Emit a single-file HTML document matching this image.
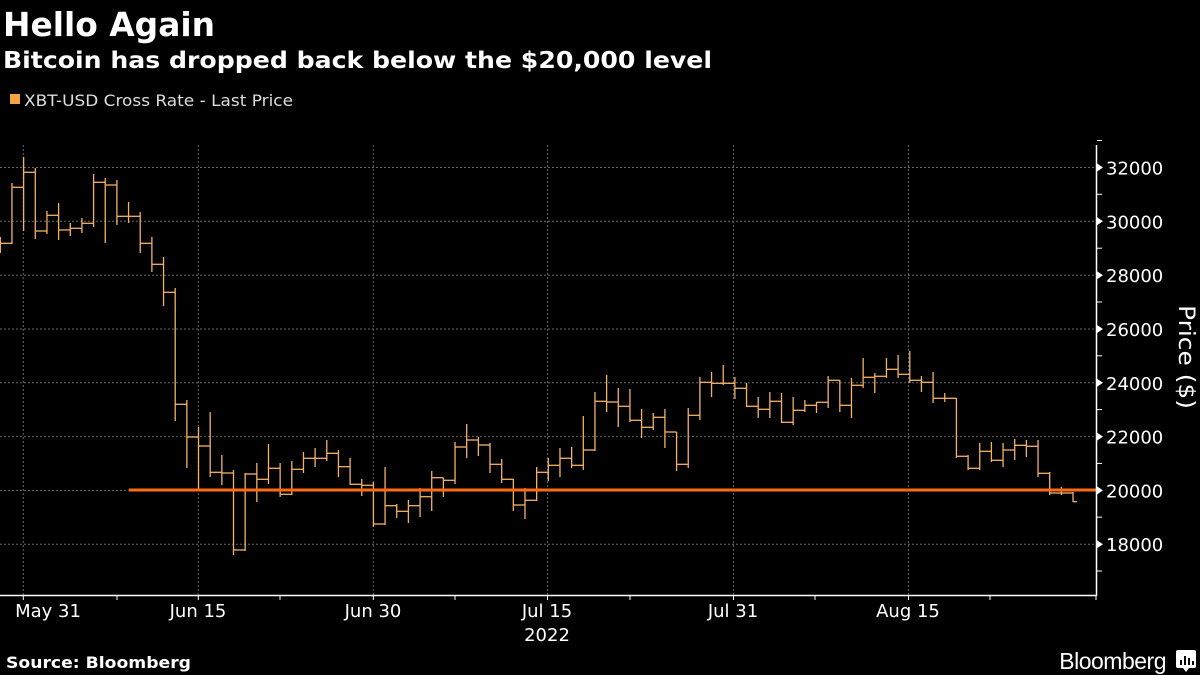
<!DOCTYPE html>
<html><head><meta charset="utf-8"><style>
body{margin:0;background:#000;width:1200px;height:675px;overflow:hidden;font-family:"Liberation Sans","DejaVu Sans",sans-serif;color:#fff}
</style></head><body>
<svg width="1200" height="675" xmlns="http://www.w3.org/2000/svg" style="position:absolute;left:0;top:0">
<text x="3" y="36" font-size="33" font-weight="bold" fill="#fff" font-family="DejaVu Sans, sans-serif" textLength="212" lengthAdjust="spacingAndGlyphs">Hello Again</text>
<text x="3" y="68" font-size="23" font-weight="bold" fill="#fff" font-family="DejaVu Sans, sans-serif" textLength="709" lengthAdjust="spacingAndGlyphs">Bitcoin has dropped back below the $20,000 level</text>
<rect x="10" y="94" width="10" height="10" fill="#f5a443"/>
<text x="24" y="106" font-size="16" fill="#ddd" font-family="DejaVu Sans, sans-serif" textLength="269" lengthAdjust="spacingAndGlyphs">XBT-USD Cross Rate - Last Price</text>
<g id="grid" stroke="#666" stroke-dasharray="2,2" stroke-width="1"></g>
<g id="bars" stroke="#f5b265" stroke-width="1.3" fill="none"></g>
<line x1="129" y1="490" x2="1097" y2="490" stroke="#ff6a13" stroke-width="3"/>
<g id="axis" stroke="#fff" stroke-width="1.5"></g>
<g id="lab" fill="#fff" font-size="18" font-family="DejaVu Sans, sans-serif"></g>
<text transform="translate(1179,357) rotate(90)" text-anchor="middle" font-size="22" fill="#fff" font-family="DejaVu Sans, sans-serif" textLength="104" lengthAdjust="spacingAndGlyphs">Price ($)</text>
<text x="547" y="641" text-anchor="middle" font-size="18" fill="#fff" font-family="DejaVu Sans, sans-serif">2022</text>
<text x="6" y="668" font-size="16" font-weight="bold" fill="#fff" font-family="DejaVu Sans, sans-serif" textLength="185" lengthAdjust="spacingAndGlyphs">Source: Bloomberg</text>
<text x="1166" y="669" text-anchor="end" font-size="23" fill="#fff" font-family="Liberation Sans, sans-serif" letter-spacing="-0.5">Bloomberg</text>
<rect x="1176" y="650" width="20" height="18" rx="2" fill="#fff"/>
<path d="M1183 668 l3 4 l3 -4z" fill="#fff"/>
<g stroke="#000" stroke-width="2"><line x1="1181" y1="665" x2="1181" y2="660"/><line x1="1185" y1="665" x2="1185" y2="656"/><line x1="1189" y1="665" x2="1189" y2="658"/><line x1="1193" y1="665" x2="1193" y2="661"/></g>
</svg>
<script>
var ns="http://www.w3.org/2000/svg";
function el(p,t,a){var e=document.createElementNS(ns,t);for(var k in a)e.setAttribute(k,a[k]);document.getElementById(p).appendChild(e);return e;}
var gy=[167.5,221.3,275.2,329,382.8,436.6,490.4,544.2];
gy.forEach(function(y){el("grid","line",{x1:0,y1:y,x2:1096,y2:y});});
[23.3,198.3,373.3,547.5,733.5,908.5].forEach(function(x){el("grid","line",{x1:x,y1:145,x2:x,y2:595});});
var L=[243.3,187.3,172.3,231,215.3,230,228.3,223.3,182.3,185,216.3,216.3,243.3,264.3,292.3,404.3,437,446,472.3,473,550,474,479.3,468.3,494.3,469.3,458.3,458.3,453.3,466.7,484.3,485.3,524,505.7,511.3,505.7,496.7,477.7,480.3,447,440,445,464.3,479.3,505,500.3,472.3,465.3,458.3,465.3,450,401.3,402,406.3,420.3,427.3,417.3,432,464.3,415.3,382.3,383.3,383.3,388.3,406.3,409.3,401.3,422.3,410.3,405.3,402.3,380.3,405.3,385.3,377.3,376.3,369.3,374.3,380.3,382.3,398.3,398.3,456.3,468.3,451.3,460.3,450,445.3,446.3,473.3,493,493,501.7];
var E=[[237,253],[183,244],[157,231],[168,239],[211,234],[203,240],[223,236],[218,233],[174,227],[178,243],[180,225],[202,223],[212,253],[237,272],[257,306],[288,421],[400,468],[427,490],[412,477],[455,485],[470,555],[473,551],[463,502],[444,484],[463,497],[461,495],[452,473],[448,467],[440,461],[450,477],[458,485],[479,496],[482,527],[467,525],[504,518],[500,523],[488,517],[471,511],[478,497],[442,484],[424,458],[437,456],[443,473],[459,483],[479,511],[488,519],[467,501],[458,481],[448,477],[447,468],[416,470],[392,451],[375,412],[388,427],[389,422],[409,438],[413,430],[409,448],[432,471],[408,468],[377,420],[372,397],[365,385],[377,399],[383,407],[397,418],[392,418],[393,423],[397,425],[400,412],[402,413],[376,408],[380,412],[378,418],[358,388],[373,393],[358,378],[355,378],[351,383],[376,392],[372,403],[393,402],[398,458],[455,470],[443,470],[442,462],[443,467],[439,460],[440,457],[440,477],[472,495],[487,495],[492,502]];
function bx(i){return 0.3+i*11.66;}
for(var i=0;i<L.length;i++){
 var x1=bx(i),x2=(i==92)?1077:bx(i+1);
 el("bars","line",{x1:x1,y1:L[i],x2:x2,y2:L[i]});
 var vals=[E[i][0],E[i][1],L[i]];if(i>0)vals.push(L[i-1]);
 el("bars","line",{x1:x1,y1:Math.min.apply(null,vals),x2:x1,y2:Math.max.apply(null,vals)});
}
el("axis","line",{x1:1096.5,y1:145,x2:1096.5,y2:596});
el("axis","line",{x1:0,y1:595.5,x2:1097,y2:595.5});
var labs=["32000","30000","28000","26000","24000","22000","20000","18000"];
gy.forEach(function(y,k){
 el("axis","path",{d:"M1097 "+(y-4)+" L1103 "+y+" L1097 "+(y+4)+"z",fill:"#fff","stroke-width":0});
 var t=el("lab","text",{x:1106,y:y+7});t.textContent=labs[k];
 el("axis","line",{x1:1097,y1:y-27,x2:1102,y2:y-27,"stroke-width":1});
});
el("axis","line",{x1:1097,y1:571,x2:1102,y2:571,"stroke-width":1});
[23.3,117,198.3,280,373.3,455,547.5,630,733.5,815,908.5,990,1096].forEach(function(x){el("axis","line",{x1:x,y1:595,x2:x,y2:600,"stroke-width":1});});
var ml=[["May 31",48],["Jun 15",198],["Jun 30",373],["Jul 15",547],["Jul 31",733],["Aug 15",908]];
ml.forEach(function(m){var t=el("lab","text",{x:m[1],y:617,"text-anchor":"middle"});t.textContent=m[0];});
</script>
</body></html>
